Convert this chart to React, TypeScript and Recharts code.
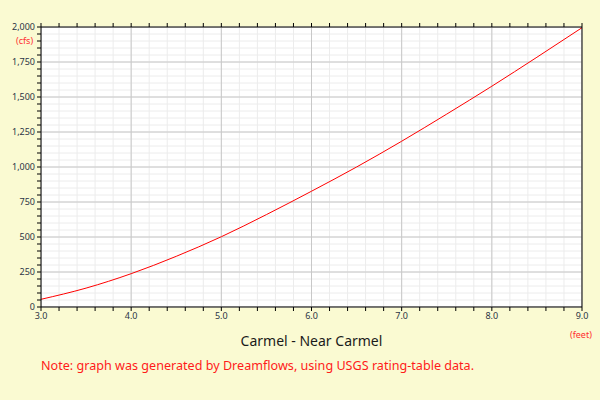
import React from "react";
import {
  CartesianGrid,
  Line,
  LineChart,
  ReferenceLine,
  XAxis,
  YAxis,
} from "recharts";

// stage (feet) -> discharge (cfs)
const stageFeet = [3.0, 3.5, 4.0, 4.5, 5.0, 5.5, 6.0, 6.5, 7.0, 7.5, 8.0, 8.5, 9.0];
const flowCfs = [55, 135, 238, 362, 502, 660, 827, 1000, 1184, 1378, 1577, 1784, 1995];

const xMajorTicks = [3, 4, 5, 6, 7, 8, 9];
const yMajorTicks = [0, 250, 500, 750, 1000, 1250, 1500, 1750, 2000];

const xMinorTicks: number[] = [];
for (let i = 0; i <= 30; i++) xMinorTicks.push(Math.round((3 + i * 0.2) * 10) / 10);
const yMinorTicks: number[] = [];
for (let i = 0; i <= 40; i++) yMinorTicks.push(i * 50);

const data = stageFeet.map((s, i) => ({ stage: s, flow: flowCfs[i] }));

const BG = "#fafad2";
const TICK_COLOR = "#2a3445";
const tickStyle = { fontSize: 9, fill: TICK_COLOR, fontFamily: "Noto Sans" };

const isMajorX = (v: number) => xMajorTicks.some((m) => Math.abs(m - v) < 1e-6);
const isMajorY = (v: number) => yMajorTicks.includes(v);

export default function App() {
  return (
    <div
      style={{
        position: "absolute",
        left: 0,
        top: 0,
        width: 600,
        height: 400,
        background: BG,
        fontFamily: "Noto Sans",
      }}
    >
      <LineChart
        width={600}
        height={400}
        data={data}
        margin={{ top: 26, right: 17, bottom: 0, left: 0 }}
      >
        <CartesianGrid fill="#ffffff" stroke="#ececec" strokeWidth={1} />
        {xMajorTicks.map((v) => (
          <ReferenceLine key={"vx" + v} x={v} stroke="#c8c8c8" ifOverflow="hidden" />
        ))}
        {yMajorTicks.map((v) => (
          <ReferenceLine key={"hy" + v} y={v} stroke="#c8c8c8" ifOverflow="hidden" />
        ))}
        <XAxis
          dataKey="stage"
          type="number"
          domain={[3, 9]}
          ticks={xMinorTicks}
          interval={0}
          height={93}
          axisLine={{ stroke: "#000" }}
          tickLine={{ stroke: "#000" }}
          tickSize={4}
          tick={tickStyle}
          tickFormatter={(v: number) => (isMajorX(v) ? v.toFixed(1) : "")}
        />
        <XAxis
          xAxisId="top"
          dataKey="stage"
          type="number"
          orientation="top"
          domain={[3, 9]}
          ticks={xMinorTicks}
          interval={0}
          height={1}
          axisLine={{ stroke: "#000" }}
          tickLine={{ stroke: "#000" }}
          tickSize={4}
          tickFormatter={() => ""}
        />
        <YAxis
          type="number"
          domain={[0, 2000]}
          ticks={yMinorTicks}
          interval={0}
          width={41}
          axisLine={{ stroke: "#000" }}
          tickLine={{ stroke: "#000" }}
          tickSize={4}
          tick={tickStyle}
          tickFormatter={(v: number) => (isMajorY(v) ? v.toLocaleString("en-US") : "")}
        />
        <YAxis
          yAxisId="right"
          orientation="right"
          type="number"
          domain={[0, 2000]}
          ticks={yMinorTicks}
          interval={0}
          width={1}
          axisLine={{ stroke: "#000" }}
          tickLine={{ stroke: "#000" }}
          tickSize={4}
          tickFormatter={() => ""}
        />
        <Line
          type="monotone"
          dataKey="flow"
          stroke="#ff0000"
          strokeWidth={1}
          dot={false}
          isAnimationActive={false}
        />
      </LineChart>
      <div
        style={{
          position: "absolute",
          left: 16,
          top: 34,
          fontSize: 9,
          color: "#ff3030",
        }}
      >
        (cfs)
      </div>
      <div
        style={{
          position: "absolute",
          left: 570,
          top: 328,
          fontSize: 9,
          color: "#ff3030",
        }}
      >
        (feet)
      </div>
      <div
        style={{
          position: "absolute",
          left: 41,
          width: 541,
          top: 331,
          textAlign: "center",
          fontSize: 14,
          color: "#1a1a1a",
        }}
      >
        Carmel - Near Carmel
      </div>
      <div
        style={{
          position: "absolute",
          left: 41,
          top: 357,
          fontSize: 12.6,
          color: "#ff1a1a",
        }}
      >
        Note: graph was generated by Dreamflows, using USGS rating-table data.
      </div>
    </div>
  );
}
